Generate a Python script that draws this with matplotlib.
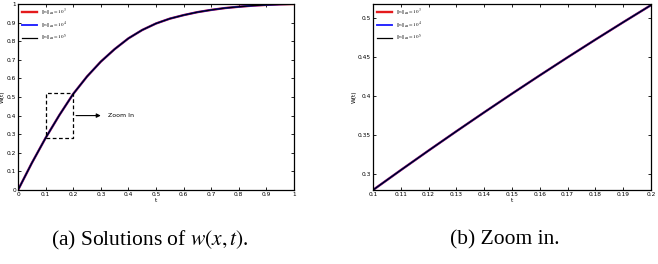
import matplotlib
matplotlib.use('Agg')
import matplotlib.pyplot as plt
import numpy as np

# curva completa w(t) (a)
t_full = [0.0, 0.05, 0.1, 0.15, 0.2, 0.25, 0.3, 0.35, 0.4, 0.45, 0.5,
          0.55, 0.6, 0.65, 0.7, 0.75, 0.8, 0.85, 0.9, 0.95, 1.0]
w_full = [0.0, 0.145, 0.28, 0.403, 0.5165, 0.61, 0.69, 0.757, 0.815, 0.86, 0.895,
          0.921, 0.94, 0.956, 0.968, 0.978, 0.985, 0.991, 0.995, 0.998, 1.0]

# tramo ampliado (b)
t_zoom = [0.10, 0.11, 0.12, 0.13, 0.14, 0.15, 0.16, 0.17, 0.18, 0.19, 0.20]
w_zoom = [0.2795, 0.3050, 0.3301, 0.3548, 0.3791, 0.4030, 0.4265, 0.4496,
          0.4723, 0.4946, 0.5165]

etiquetas = [r'$\|w\|_\infty=10^3$', r'$\|w\|_\infty=10^4$', r'$\|w\|_\infty=10^5$']
colores = ['#e41a1c', '#2020ff', '#000000']
anchos = [1.7, 1.35, 0.9]

plt.rcParams['mathtext.fontset'] = 'stix'

fig = plt.figure(figsize=(6.58, 2.64), dpi=100)
ax1 = fig.add_axes([0.0274, 0.2803, 0.4194, 0.7047])
ax2 = fig.add_axes([0.5669, 0.2803, 0.4225, 0.7047])

fs = 4.2
for ax, t, w in [(ax1, t_full, w_full), (ax2, t_zoom, w_zoom)]:
    for etq, c, lw in zip(etiquetas, colores, anchos):
        ax.plot(t, w, color=c, lw=lw, label=etq)
    ax.tick_params(direction='in', length=2.5, width=0.6, labelsize=fs,
                   top=True, right=True, pad=1.5, colors='black')
    for s in ax.spines.values():
        s.set_linewidth(0.9)
    ax.set_xlabel('t', fontsize=fs, labelpad=1)
    ax.set_ylabel('W(t)', fontsize=fs, labelpad=1)
    leg = ax.legend(loc='upper left', fontsize=3.6, frameon=False,
                    handlelength=3.0, borderaxespad=0.3, labelspacing=0.5)

ax1.set_xlim(0, 1)
ax1.set_ylim(0, 1)
ax1.set_xticks(np.arange(0, 1.01, 0.1))
ax1.set_yticks(np.arange(0, 1.01, 0.1))
ax1.set_xticklabels(['0', '0.1', '0.2', '0.3', '0.4', '0.5', '0.6', '0.7', '0.8', '0.9', '1'])
ax1.set_yticklabels(['0', '0.1', '0.2', '0.3', '0.4', '0.5', '0.6', '0.7', '0.8', '0.9', '1'])

# recuadro de zoom
ax1.plot([0.1, 0.2, 0.2, 0.1, 0.1], [0.28, 0.28, 0.52, 0.52, 0.28],
         'k--', lw=0.9, dashes=(3, 2))
ax1.annotate('', xy=(0.31, 0.40), xytext=(0.2, 0.40),
             arrowprops=dict(arrowstyle='-|>', color='black', lw=0.8,
                             mutation_scale=6))
ax1.text(0.325, 0.40, 'Zoom In', fontsize=4.5, va='center', ha='left')

ax2.set_xlim(0.1, 0.2)
ax2.set_ylim(0.2795, 0.518)
ax2.set_xticks(np.arange(0.1, 0.2001, 0.01))
ax2.set_xticklabels(['0.1', '0.11', '0.12', '0.13', '0.14', '0.15', '0.16',
                     '0.17', '0.18', '0.19', '0.2'])
ax2.set_yticks([0.3, 0.35, 0.4, 0.45, 0.5])
ax2.set_yticklabels(['0.3', '0.35', '0.4', '0.45', '0.5'])

# subtitulos
fig.text(150 / 658, 1 - 240 / 264, r'(a) Solutions of $w(x,t)$.', fontsize=15.5,
         family='Liberation Serif', ha='center', va='center')
fig.text(505 / 658, 1 - 240 / 264, '(b) Zoom in.', fontsize=15.5,
         family='Liberation Serif', ha='center', va='center')

fig.savefig('out.png', dpi=100)
